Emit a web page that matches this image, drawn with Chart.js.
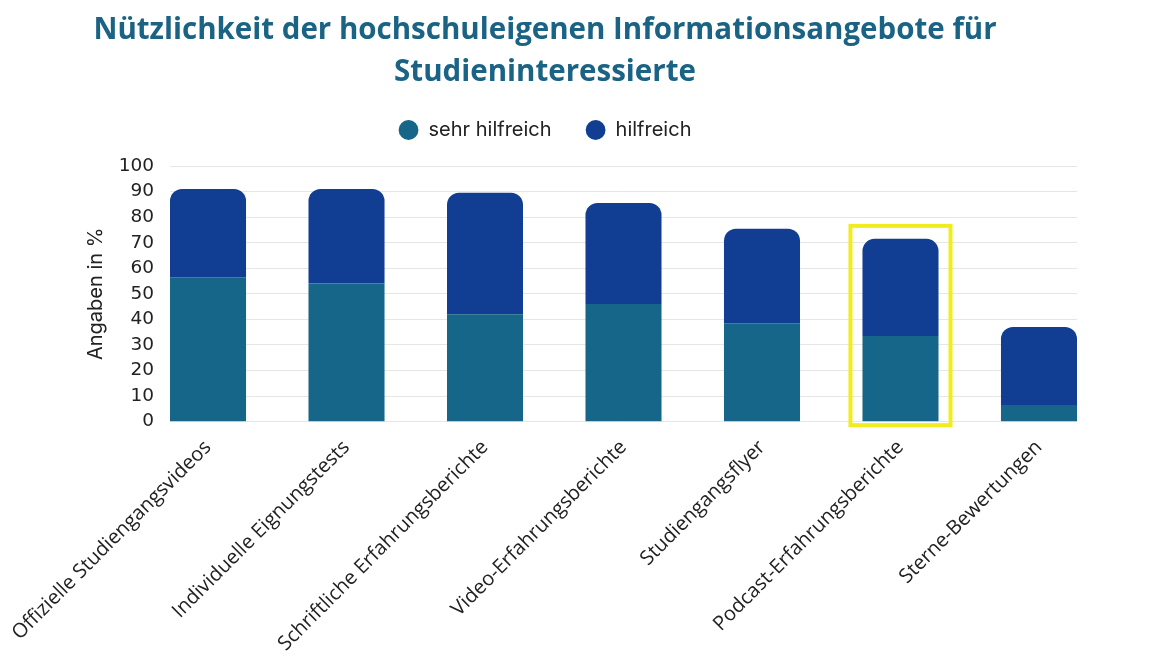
<!DOCTYPE html>
<html>
<head>
<meta charset="utf-8">
<script src="https://cdn.jsdelivr.net/npm/chart.js@4/dist/chart.umd.min.js"></script>
<style>
  html, body { margin: 0; padding: 0; background: #fff; }
  #wrap { width: 1170px; height: 669px; }
</style>
</head>
<body>
<div id="wrap"><canvas id="myChart"></canvas></div>
<script>
// data
var categories = [
    "Offizielle Studiengangsvideos",
    "Individuelle Eignungstests",
    "Schriftliche Erfahrungsberichte",
    "Video-Erfahrungsberichte",
    "Studiengangsflyer",
    "Podcast-Erfahrungsberichte",
    "Sterne-Bewertungen"
];
var sehrHilfreich = [56.5, 54, 42, 46, 38.5, 33.5, 6.5];
var hilfreich = [34.5, 37, 47.5, 39.5, 37, 38, 30.5];
var yTicks = [0, 10, 20, 30, 40, 50, 60, 70, 80, 90, 100];

var highlightIndex = 5;
var barShare = 0.549;

// yellow frame around one bar stack
var highlightPlugin = {
    id: 'highlight',
    afterDatasetsDraw: function (chart) {
        var top = chart.getDatasetMeta(1).data[highlightIndex];
        var bottom = chart.getDatasetMeta(0).data[highlightIndex];
        if (!top || !bottom) return;
        var ctx = chart.ctx;
        var half = top.width / 2 + 12;
        ctx.save();
        ctx.strokeStyle = '#f0ec1e';
        ctx.lineWidth = 4;
        ctx.strokeRect(top.x - half, top.y - 13, half * 2, bottom.base - top.y + 17);
        ctx.restore();
    }
};

// more room between legend and plot
var legendGap = {
    id: 'legendGap',
    afterInit: function (chart) {
        var legend = chart.legend;
        var fit = legend.fit;
        legend.fit = function () {
            fit.call(this);
            this.height += 16;
        };
    }
};

var ctx = document.getElementById("myChart").getContext("2d");
var myChart = new Chart(ctx, {
    type: 'bar',
    data: {
        labels: categories,
        datasets: [{
            label: 'sehr hilfreich',
            data: sehrHilfreich,
            backgroundColor: '#166689',
            borderRadius: 0,
            borderSkipped: false
        }, {
            label: 'hilfreich',
            data: hilfreich,
            backgroundColor: '#113e93',
            borderRadius: { topLeft: 12, topRight: 12, bottomLeft: 0, bottomRight: 0 },
            borderSkipped: false
        }]
    },
    options: {
        responsive: true,
        maintainAspectRatio: false,
        animation: false,
        datasets: {
            bar: { categoryPercentage: 1, barPercentage: barShare }
        },
        layout: { padding: { left: 13, right: 93, top: 0, bottom: 7 } },
        plugins: {
            title: {
                display: true,
                text: ['Nützlichkeit der hochschuleigenen Informationsangebote für', 'Studieninteressierte'],
                color: '#1a6385',
                font: { family: 'Open Sans', size: 29.5, weight: 'bold', lineHeight: 1.424 },
                padding: { top: 10, bottom: -8 }
            },
            legend: {
                position: 'top',
                labels: {
                    usePointStyle: true,
                    pointStyle: 'circle',
                    boxWidth: 20,
                    boxHeight: 14,
                    padding: 34,
                    color: '#222',
                    font: { family: 'Inter', size: 20 }
                }
            },
            tooltip: { enabled: false }
        },
        scales: {
            x: {
                stacked: true,
                grid: { display: false },
                border: { display: false },
                ticks: {
                    maxRotation: 45,
                    minRotation: 45,
                    padding: 6,
                    color: '#222',
                    font: { family: 'Open Sans', size: 20 }
                },
                // let first and last bar sit flush with the grid ends
                afterBuildTicks: function (scale) {
                    var half = barShare / 2;
                    scale._startValue = -half;
                    scale._valueRange = categories.length - 1 + 2 * half;
                }
            },
            y: {
                stacked: true,
                min: 0,
                max: 100,
                afterBuildTicks: function (scale) {
                    scale.ticks = yTicks.map(function (v) { return { value: v }; });
                },
                afterFit: function (scale) {
                    scale.width = 157;
                },
                grid: { color: '#e6e6e6', drawTicks: false },
                border: { display: false },
                ticks: {
                    autoSkip: false,
                    padding: 16,
                    color: '#222',
                    font: { family: 'DejaVu Sans', size: 18.5 }
                },
                title: {
                    display: true,
                    text: 'Angaben in %',
                    color: '#222',
                    font: { family: 'Inter', size: 20 },
                    padding: { top: 71, bottom: 0 }
                }
            }
        }
    },
    plugins: [highlightPlugin, legendGap]
});
</script>
</body>
</html>
